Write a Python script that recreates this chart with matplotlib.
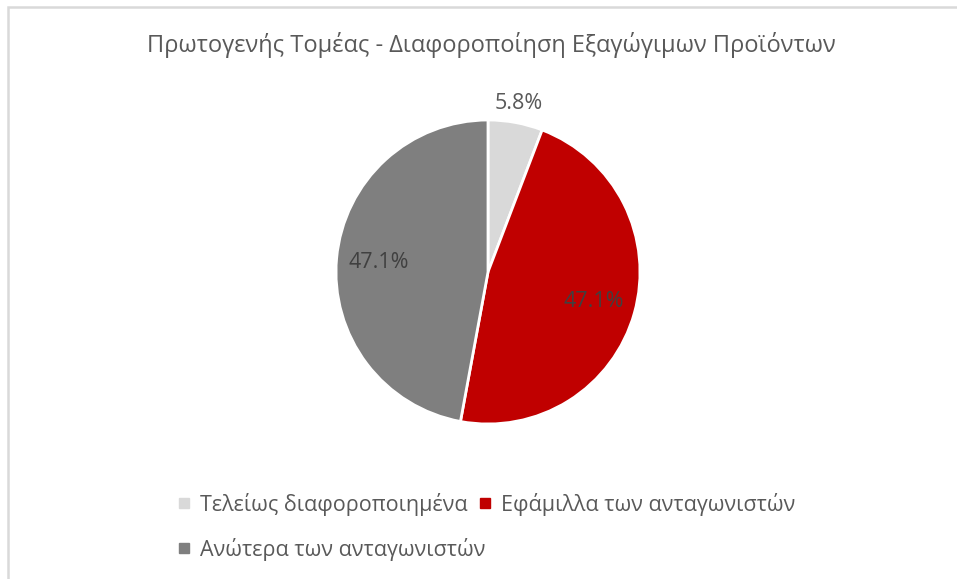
import matplotlib
matplotlib.use("Agg")
import matplotlib.pyplot as plt
from matplotlib.lines import Line2D
from matplotlib.patches import Rectangle
import numpy as np

plt.rcParams['font.family'] = ['Open Sans', 'DejaVu Sans']

# data
categories = ["Τελείως διαφοροποιημένα", "Εφάμιλλα των ανταγωνιστών", "Ανώτερα των ανταγωνιστών"]
shares = [5.8, 47.1, 47.1]
colors = ["#D9D9D9", "#C00000", "#7F7F7F"]
title = "Πρωτογενής Τομέας - Διαφοροποίηση Εξαγώγιμων Προϊόντων"

W, H = 957, 579
fig = plt.figure(figsize=(W / 100, H / 100), dpi=100)
fig.patch.set_facecolor("white")

# frame like the excel chart area (cropped at right/bottom)
fig.patches.append(Rectangle((8 / W, -0.1), 1.2, (H - 7) / H + 0.1, transform=fig.transFigure,
                             fill=False, ec="#D9D9D9", lw=1.8))

cx, cy, r = 488, H - 272, 152
ax = fig.add_axes([(cx - r) / W, (cy - r) / H, 2 * r / W, 2 * r / H])
wedges, texts, autotexts = ax.pie(shares, colors=colors, startangle=90, counterclock=False,
                                  autopct="%.1f%%", pctdistance=0.72,
                                  wedgeprops=dict(edgecolor="white", linewidth=2),
                                  textprops=dict(color="#404040", fontsize=15.5))
ax.set_xlim(-1, 1)
ax.set_ylim(-1, 1)
ax.set_aspect("equal")

# small slice label sits outside the pie
ang = np.deg2rad((wedges[0].theta1 + wedges[0].theta2) / 2)
autotexts[0].set_position((1.13 * np.cos(ang), 1.13 * np.sin(ang)))
autotexts[0].set_color("#595959")

fig.text(491 / W, 1 - 45 / H, title, ha="center", va="center", fontsize=17, color="#595959")

# legend flows row-wise like excel: two items on the first row, one on the second
handles = [Line2D([], [], marker="s", ls="", color=c, markersize=7) for c in colors]
leg_kw = dict(loc="upper left", frameon=False, fontsize=15.5, labelcolor="#595959",
              handlelength=0.6, handletextpad=0.4, columnspacing=0.55,
              borderaxespad=0, borderpad=0)
leg1 = fig.legend(handles[:2], categories[:2], ncol=2,
                  bbox_to_anchor=(178 / W, 1 - 493 / H), **leg_kw)
leg2 = fig.legend(handles[2:], categories[2:], ncol=1,
                  bbox_to_anchor=(178 / W, 1 - 538 / H), **leg_kw)

fig.savefig("out.png", dpi=100)
